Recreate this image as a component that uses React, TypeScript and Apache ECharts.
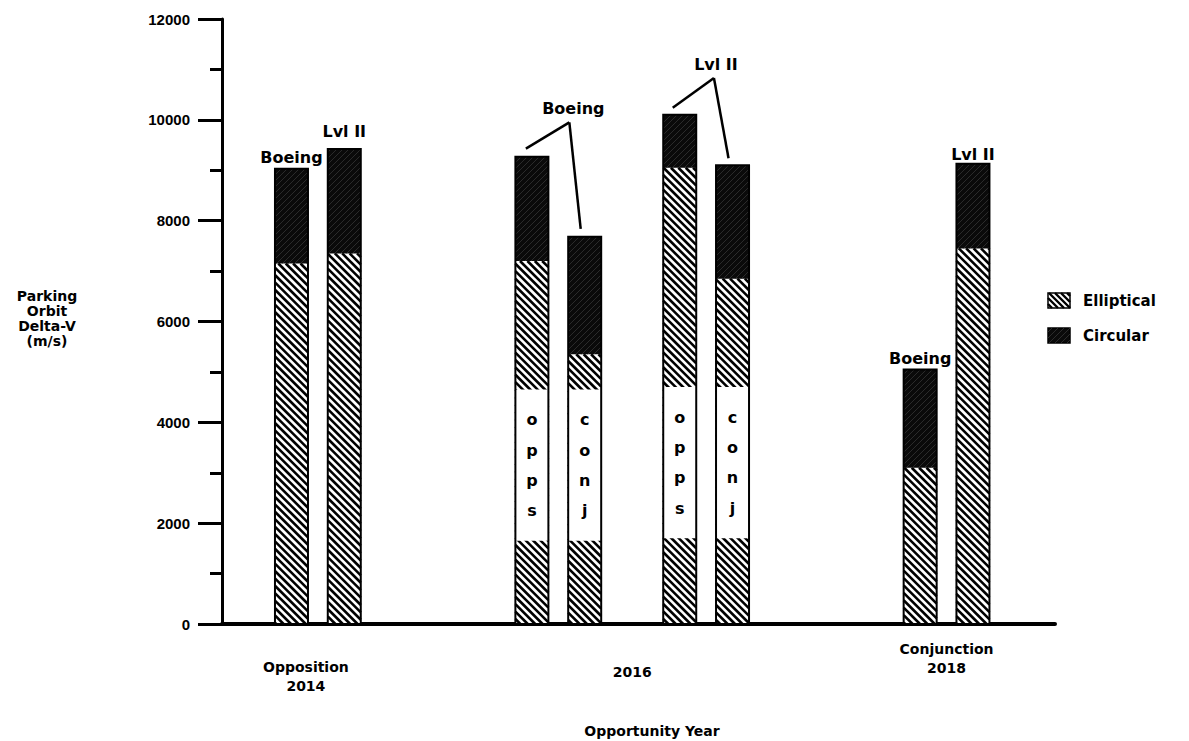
import React, { useEffect, useRef } from "react";
import * as echarts from "echarts";

// ---- data ----
const years = [2014, 2014, 2016, 2016, 2016, 2016, 2018, 2018];
const studies = ["Boeing", "Lvl II", "Boeing", "Boeing", "Lvl II", "Lvl II", "Boeing", "Lvl II"];
const elliptical = [7150, 7350, 7200, 5350, 9050, 6850, 3100, 7450];
const circular = [1880, 2070, 2070, 2330, 1050, 2250, 1950, 1680];
const trajectory = ["", "", "opps", "conj", "opps", "conj", "", ""];
const boxLow = [0, 0, 1650, 1650, 1700, 1700, 0, 0];
const boxHigh = [0, 0, 4650, 4650, 4700, 4700, 0, 0];
const xTickYears = [2014, 2016, 2018];
const xTickLabels = ["Opposition\n2014", "2016", "Conjunction\n2018"];
const yTicks = [0, 2000, 4000, 6000, 8000, 10000, 12000];
const yAxisNameLines = ["Parking", "Orbit", "Delta-V", "(m/s)"];
const legendNames = ["Elliptical", "Circular"];

// ---- layout (not data) ----
const BAR_SLOTS = [-0.5, 0.5, -1.9, -0.9, 0.9, 1.9, -0.5, 0.5];
const SLOT_PX = 52.8;
const BW = 33;
const FONT = '"DejaVu Sans", sans-serif';
const TICK_FONT = '"Liberation Sans", Arial, sans-serif';

function hatch(x0: number, y0: number, x1: number, y1: number, s: number, dir: string, stroke: string, lw: number) {
  const out: any[] = [];
  if (dir === "back") {
    const cMin = x0 - y1, cMax = x1 - y0;
    for (let c = Math.ceil(cMin / s) * s; c <= cMax; c += s) {
      const ya = Math.max(y0, x0 - c), yb = Math.min(y1, x1 - c);
      if (yb > ya) out.push({ type: "line", silent: true, shape: { x1: ya + c, y1: ya, x2: yb + c, y2: yb }, style: { stroke, lineWidth: lw } });
    }
  } else {
    const cMin = x0 + y0, cMax = x1 + y1;
    for (let c = Math.ceil(cMin / s) * s; c <= cMax; c += s) {
      const ya = Math.max(y0, c - x1), yb = Math.min(y1, c - x0);
      if (yb > ya) out.push({ type: "line", silent: true, shape: { x1: c - ya, y1: ya, x2: c - yb, y2: yb }, style: { stroke, lineWidth: lw } });
    }
  }
  return out;
}

function txt(text: string, x: number, y: number, size = 14, align = "center", lineHeight = 16) {
  return {
    type: "text",
    x,
    y,
    silent: true,
    style: {
      text,
      fill: "#000",
      font: `bold ${size}px ${FONT}`,
      fontSize: size,
      fontWeight: "bold",
      fontFamily: FONT,
      align,
      textAlign: align,
      verticalAlign: "middle",
      textVerticalAlign: "middle",
      lineHeight,
    },
  };
}

function line(a: number[], b: number[]) {
  return { type: "line", silent: true, shape: { x1: a[0], y1: a[1], x2: b[0], y2: b[1] }, style: { stroke: "#000", lineWidth: 2.5 } };
}

const barData = years.map((yr, i) => [yr, elliptical[i], circular[i], boxLow[i], boxHigh[i], i]);

export default function App() {
  const ref = useRef<HTMLDivElement>(null);
  useEffect(() => {
    const chart = echarts.init(ref.current!, null, { renderer: "svg" });
    const option: any = {
      animation: false,
      backgroundColor: "#fff",
      textStyle: { fontFamily: FONT },
      grid: { left: 222, right: 134, top: 19, bottom: 117 },
      xAxis: {
        type: "value",
        min: 2013.39,
        max: 2018.69,
        axisLine: { show: true, onZero: false, lineStyle: { color: "#000", width: 4 } },
        axisTick: { show: false },
        axisLabel: { show: false },
        splitLine: { show: false },
      },
      yAxis: {
        type: "value",
        min: 0,
        max: 12000,
        interval: 2000,
        axisLine: { show: true, lineStyle: { color: "#000", width: 3 } },
        axisTick: { show: true, length: 24, lineStyle: { color: "#000", width: 3 } },
        minorTick: { show: true, splitNumber: 2, length: 12, lineStyle: { color: "#000", width: 3 } },
        splitLine: { show: false },
        axisLabel: {
          color: "#000",
          fontWeight: "bold",
          fontSize: 15,
          fontFamily: TICK_FONT,
          margin: 32,
          formatter: (v: number) => (yTicks.includes(v) ? String(v) : ""),
        },
      },
      series: [
        {
          type: "custom",
          name: "bars",
          clip: false,
          encode: { x: 0, y: 1 },
          data: barData,
          renderItem: (params: any, api: any) => {
            const i = params.dataIndex;
            const yr = api.value(0);
            const e = api.value(1);
            const c = api.value(2);
            const bl = api.value(3);
            const bh = api.value(4);
            const base = api.coord([yr, 0]);
            const cx = base[0] + BAR_SLOTS[i] * SLOT_PX;
            const y0 = base[1];
            const yE = api.coord([yr, e])[1];
            const yT = api.coord([yr, e + c])[1];
            const x0 = cx - BW / 2, x1 = cx + BW / 2;
            const children: any[] = [];
            children.push({ type: "rect", shape: { x: x0, y: yE, width: BW, height: y0 - yE }, style: { fill: "#fff" } });
            children.push(...hatch(x0, yE, x1, y0, 7.4, "back", "#000", 2.6));
            children.push({ type: "rect", shape: { x: x0, y: yT, width: BW, height: yE - yT }, style: { fill: "#0a0a0a" } });
            children.push(...hatch(x0, yT, x1, yE, 6, "fwd", "#353535", 0.8));
            if (bh > bl) {
              const yb0 = api.coord([yr, bh])[1];
              const yb1 = api.coord([yr, bl])[1];
              children.push({ type: "rect", shape: { x: x0, y: yb0, width: BW, height: yb1 - yb0 }, style: { fill: "#fff" } });
              const letters = trajectory[i].split("");
              const h = yb1 - yb0;
              letters.forEach((ch, k) => {
                children.push({
                  type: "text",
                  silent: true,
                  style: {
                    text: ch,
                    x: cx,
                    y: yb0 + ((k + 1) * h) / (letters.length + 1),
                    fill: "#000",
                    font: `bold 16px ${FONT}`,
                    align: "center",
                    textAlign: "center",
                    verticalAlign: "middle",
                    textVerticalAlign: "middle",
                  },
                });
              });
            }
            children.push({ type: "rect", shape: { x: x0, y: yT, width: BW, height: y0 - yT }, style: { fill: "none", stroke: "#000", lineWidth: 2 } });
            return { type: "group", children };
          },
        },
      ],
    };
    chart.setOption(option);

    const px = (x: number, y: number) => chart.convertToPixel({ gridIndex: 0 } as any, [x, y]) as number[];
    const barTop = (i: number) => {
      const p = px(years[i], elliptical[i] + circular[i]);
      return [p[0] + BAR_SLOTS[i] * SLOT_PX, p[1]];
    };
    const g: any[] = [];
    // single-bar labels
    const singles = [
      { bar: 0, gap: 11 },
      { bar: 1, gap: 18 },
      { bar: 6, gap: 11 },
      { bar: 7, gap: 9 },
    ];
    singles.forEach((s) => {
      const t = barTop(s.bar);
      g.push(txt(studies[s.bar], t[0], t[1] - s.gap, 16));
    });
    // grouped labels for 2016
    const groups = [
      { bars: [2, 3], apex: [2015.6, 9950], tdx: 4, tdy: -14, off: [[-6, -8], [-4, -8]] },
      { bars: [4, 5], apex: [2016.52, 10830], tdx: 2, tdy: -13, off: [[-7, -7], [-4, -7]] },
    ];
    groups.forEach((gr) => {
      const a = px(gr.apex[0], gr.apex[1]);
      g.push(txt(studies[gr.bars[0]], a[0] + gr.tdx, a[1] + gr.tdy, 16));
      gr.bars.forEach((b, k) => {
        const t = barTop(b);
        g.push(line(a, [t[0] + gr.off[k][0], t[1] + gr.off[k][1]]));
      });
    });
    // x category labels
    const xLabelY = [676, 672, 658];
    const xLabelDx = [-12, 0, 0];
    xTickYears.forEach((yr, k) => {
      const p = px(yr, 0);
      g.push(txt(xTickLabels[k], p[0] + xLabelDx[k], xLabelY[k], 14, "center", 19));
    });
    g.push(txt("Opportunity Year", 652, 731, 14));
    yAxisNameLines.forEach((s, k) => g.push(txt(s, 47, 296 + k * 15, 14, "center", 14)));
    // legend
    const lx = 1048, lw = 22, lh = 15;
    const ly = [293, 328];
    g.push({ type: "rect", shape: { x: lx, y: ly[0], width: lw, height: lh }, style: { fill: "#fff" } });
    g.push(...hatch(lx, ly[0], lx + lw, ly[0] + lh, 6, "back", "#000", 2.4));
    g.push({ type: "rect", shape: { x: lx, y: ly[0], width: lw, height: lh }, style: { fill: "none", stroke: "#000", lineWidth: 1.5 } });
    g.push({ type: "rect", shape: { x: lx, y: ly[1], width: lw, height: lh }, style: { fill: "#0a0a0a", stroke: "#000", lineWidth: 1.5 } });
    g.push(...hatch(lx, ly[1], lx + lw, ly[1] + lh, 6, "fwd", "#353535", 0.8));
    g.push(txt(legendNames[0], lx + 35, ly[0] + lh / 2, 15, "left"));
    g.push(txt(legendNames[1], lx + 35, ly[1] + lh / 2, 15, "left"));
    chart.setOption({ graphic: g });

    return () => chart.dispose();
  }, []);
  return <div ref={ref} style={{ position: "fixed", left: 0, top: 0, width: 1189, height: 741, background: "#fff" }} />;
}
